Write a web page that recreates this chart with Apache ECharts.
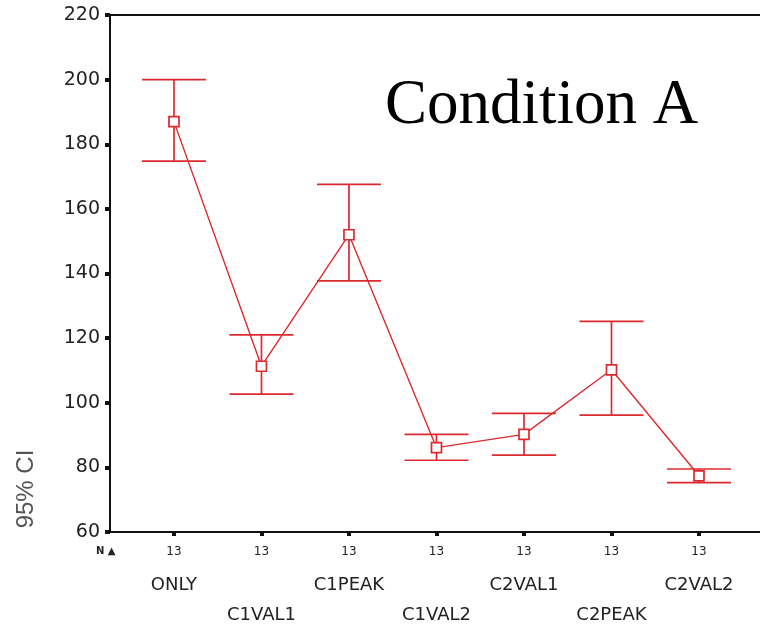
<!DOCTYPE html>
<html>
<head>
<meta charset="utf-8">
<script src="https://cdn.jsdelivr.net/npm/echarts@6/dist/echarts.min.js"></script>
<style>
html,body{margin:0;padding:0;background:#fff;}
#chart{width:760px;height:629px;}
</style>
</head>
<body>
<div id="chart"></div>
<script>
var categories = ['ONLY','C1VAL1','C1PEAK','C1VAL2','C2VAL1','C2PEAK','C2VAL2'];
var means = [187, 111.3, 152, 86.1, 90.2, 110.2, 77.4];
var upper = [200, 121, 167.6, 90.2, 96.7, 125.2, 79.5];
var lower = [174.8, 102.7, 137.7, 82.2, 83.8, 96.2, 75.3];
var nLabels = ['13','13','13','13','13','13','13'];
var yTicks = [60, 80, 100, 120, 140, 160, 180, 200, 220];
var titleText = 'Condition A';
var yName = '95% CI';

var RED = '#dc2a2f';
var idx = categories.map(function (c, i) { return i; });
var lineData = means.map(function (m, i) { return [i, m]; });
var errData = means.map(function (m, i) { return [i, lower[i], upper[i]]; });

var chart = echarts.init(document.getElementById('chart'), null, {renderer: 'canvas'});
chart.setOption({
  backgroundColor: '#ffffff',
  animation: false,
  grid: {left: 110, top: 15, right: -2, bottom: 97, containLabel: false, outerBoundsMode: 'none'},
  xAxis: [{
    type: 'value',
    position: 'bottom',
    min: -0.731,
    max: 6.72,
    splitLine: {show: false},
    axisLine: {show: true, onZero: false, lineStyle: {color: '#111', width: 2}},
    axisTick: {show: true, customValues: idx, length: 4, lineStyle: {color: '#111', width: 4}},
    axisLabel: {
      show: true,
      customValues: idx,
      margin: 8,
      formatter: function (v) {
        var i = Math.round(v);
        var st = (i % 2 === 0) ? 'a' : 'b';
        return '{n|' + nLabels[i] + '}\n{' + st + '|' + categories[i] + '}';
      },
      rich: {
        n: {fontFamily: 'DejaVu Sans', fontSize: 12, lineHeight: 24, color: '#222'},
        a: {fontFamily: 'DejaVu Sans', fontSize: 18, lineHeight: 42, color: '#222'},
        b: {fontFamily: 'DejaVu Sans', fontSize: 18, lineHeight: 102, color: '#222'}
      }
    }
  }, {
    type: 'value',
    position: 'top',
    min: -0.731,
    max: 6.72,
    splitLine: {show: false},
    axisLine: {show: true, onZero: false, lineStyle: {color: '#111', width: 2}},
    axisTick: {show: false},
    axisLabel: {show: false}
  }],
  yAxis: {
    type: 'value',
    min: 60,
    max: 220,
    interval: 20,
    splitLine: {show: false},
    axisLine: {show: true, onZero: false, lineStyle: {color: '#111', width: 2}},
    axisTick: {show: true, length: 5, lineStyle: {color: '#111', width: 4}},
    axisLabel: {fontFamily: 'DejaVu Sans', fontSize: 19, color: '#222', margin: 10}
  },
  graphic: [{
    type: 'text',
    left: 385,
    top: 75,
    style: {text: titleText, font: '63px "Liberation Serif"', fill: '#000'}
  }, {
    type: 'text',
    left: 96,
    top: 546,
    style: {text: 'N \u25B2', font: 'bold 10px "DejaVu Sans"', fill: '#222'}
  }, {
    type: 'text',
    x: 26,
    y: 489,
    rotation: Math.PI / 2,
    style: {text: yName, font: '24px "Liberation Sans"', fill: '#555', align: 'center', verticalAlign: 'middle'}
  }],
  series: [{
    type: 'custom',
    xAxisIndex: 0,
    data: errData,
    encode: {x: 0, y: [1, 2]},
    renderItem: function (params, api) {
      var x = api.value(0);
      var lo = api.coord([x, api.value(1)]);
      var hi = api.coord([x, api.value(2)]);
      var hw = 32;
      var st = {stroke: RED, lineWidth: 1.7};
      return {
        type: 'group',
        children: [
          {type: 'line', shape: {x1: hi[0], y1: hi[1], x2: lo[0], y2: lo[1]}, style: st},
          {type: 'line', shape: {x1: hi[0] - hw, y1: hi[1], x2: hi[0] + hw, y2: hi[1]}, style: st},
          {type: 'line', shape: {x1: lo[0] - hw, y1: lo[1], x2: lo[0] + hw, y2: lo[1]}, style: st}
        ]
      };
    },
    z: 2
  }, {
    type: 'line',
    xAxisIndex: 0,
    data: lineData,
    symbol: 'rect',
    symbolSize: 10,
    showAllSymbol: true,
    itemStyle: {color: '#ffffff', borderColor: RED, borderWidth: 1.7},
    lineStyle: {color: RED, width: 1.4},
    z: 3
  }]
});
</script>
</body>
</html>
